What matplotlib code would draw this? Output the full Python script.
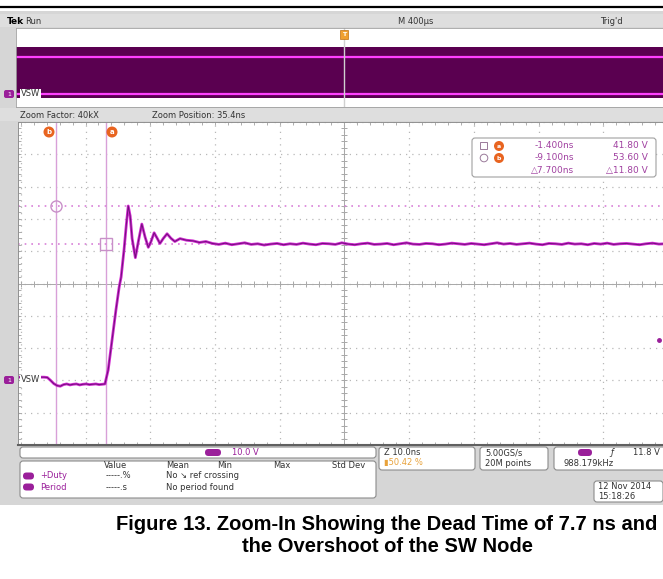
import matplotlib
matplotlib.use("Agg")
import matplotlib.pyplot as plt
from matplotlib.patches import FancyBboxPatch, Circle, Rectangle

W, H = 663, 579

# zoomed VSW trace: time (ns) and voltage (V)
t_ns = [-15.0, -11.0, -10.5, -10.0, -9.5, -9.0, -8.5, -8.0, -7.5, -7.0,
        -6.5, -6.0, -5.5, -5.0, -4.5, -4.0, -3.5, -3.0, -2.5, -2.0,
        -1.6, -1.1, -0.5, 0.1, 0.6, 0.9, 1.35, 1.7, 2.0, 2.3,
        2.6, 3.1, 3.6, 4.1, 4.6, 5.1, 5.5, 6.0, 6.5, 6.9,
        7.4, 8.0, 8.6, 9.2, 10.0, 11.0, 12.0,
        13, 14, 15, 16, 17, 18, 19, 20, 21, 22,
        23, 24, 25, 26, 27, 28, 29, 30, 31, 32,
        33, 34, 35, 36, 37, 38, 39, 40, 41, 42,
        43, 44, 45, 46, 47, 48, 49, 50, 51, 52,
        53, 54, 55, 56, 57, 58, 59, 60, 61, 62,
        63, 64, 65, 66, 67, 68, 69, 70, 71, 72,
        73, 74, 75, 76, 77, 78, 79, 80, 81, 82,
        83, 84, 85]
v_sw = [0.6, 0.6, 0.5, -0.4, -1.4, -2.0, -2.2, -1.7, -1.5, -1.8,
        -1.6, -1.5, -1.8, -1.6, -1.5, -1.7, -1.6, -1.5, -1.7, -1.6,
        -1.5, 2.8, 12.1, 21.4, 28.5, 31.6, 40.0, 47.7, 53.6, 50.5,
        43.5, 37.6, 43.0, 48.0, 44.0, 40.8, 42.5, 45.3, 43.5, 42.0,
        43.5, 45.0, 43.6, 42.6, 43.5, 43.0, 42.8,
        42.3, 42.6, 42.0, 41.7, 42.1, 41.6, 41.9, 42.2, 41.7, 41.9,
        41.5, 41.8, 42.0, 41.6, 41.9, 41.7, 42.1, 41.8, 41.6, 42.0,
        41.9, 41.7, 42.2, 41.8, 41.6, 41.9, 42.1, 41.7, 41.8, 42.0,
        41.6, 41.9, 42.2, 41.8, 41.7, 42.0, 41.9, 41.6, 41.8, 42.1,
        41.9, 41.7, 42.0, 41.8, 41.6, 41.9, 42.2, 41.8, 42.0, 41.7,
        41.9, 42.1, 41.8, 41.6, 42.0, 41.9, 41.7, 42.1, 41.8, 41.9,
        41.6, 42.0, 41.8, 42.1, 41.7, 41.9, 42.0, 41.8, 41.6, 41.9,
        42.1, 41.8, 41.9]

# cursors (ns, V)
cur_a = (-1.4, 41.8)
cur_b = (-9.1, 53.6)
readout = [["-1.400ns", "41.80 V"], ["-9.100ns", "53.60 V"], ["\u25b37.700ns", "\u25b311.80 V"]]

# overview record (us, V): envelope of the switching waveform
ov_t = [-2000, 2000]
ov_max = [54, 54]
ov_high = [42, 42]
ov_low = [0, 0]
ov_min = [-4, -4]

zoom_pos = 35.4      # ns, screen centre
ns_div, v_div = 10.0, 10.0
v_center = 29.6

PURPLE = "#9a1f9a"
TRACE = "#d028d0"
TXT = "#333333"
FS = 6
plt.rcParams["font.family"] = "DejaVu Sans"

fig = plt.figure(figsize=(W / 100, H / 100), dpi=100)


def px_axes(x, y, w, h, **kw):
    return fig.add_axes([x / W, 1 - (y + h) / H, w / W, h / H], **kw)


def rbox(ax, x, y, w, h, fc="white", ec="#8c8c8c"):
    ax.add_patch(FancyBboxPatch((x, y), w, h, boxstyle="round,pad=0,rounding_size=3",
                                fc=fc, ec=ec, lw=0.8))


# background (pixel coordinates)
bg = px_axes(0, 0, W, H)
bg.set_xlim(0, W)
bg.set_ylim(H, 0)
bg.axis("off")
bg.add_patch(Rectangle((0, 11), W, 494, fc="#d6d6d6", ec="none"))
bg.add_patch(Rectangle((0, 14), W, 13, fc="#dedede", ec="none"))
bg.add_patch(Rectangle((0, 108), W, 13, fc="#dedede", ec="none"))
bg.plot([0, W], [7, 7], color="black", lw=1.6)
bg.text(7, 21, "Tek", fontsize=FS + 0.5, fontweight="bold", color="black", va="center")
bg.text(25, 21, "Run", fontsize=FS, color=TXT, va="center")
bg.text(398, 21, "M 400\u00b5s", fontsize=FS, color=TXT, va="center")
bg.text(600, 21, "Trig'd", fontsize=FS, color=TXT, va="center")
bg.text(20, 115, "Zoom Factor: 40kX", fontsize=FS, color=TXT, va="center")
bg.text(152, 115, "Zoom Position: 35.4ns", fontsize=FS, color=TXT, va="center")

# bottom panels
rbox(bg, 20, 447, 356, 11)
rbox(bg, 20, 461, 356, 37)
for x, s in [(104, "Value"), (166, "Mean"), (217, "Min"), (273, "Max"), (332, "Std Dev")]:
    bg.text(x, 466, s, fontsize=FS, color=TXT, va="center")
for y, name, val, msg in [(476, "+Duty", "-----.%", "No \u2198 ref crossing"),
                          (487, "Period", "-----.s", "No period found")]:
    bg.add_patch(FancyBboxPatch((23, y - 3.5), 11, 7, boxstyle="round,pad=0,rounding_size=3.5",
                                fc=PURPLE, ec="none"))
    bg.text(40, y, name, fontsize=FS, color=PURPLE, va="center")
    bg.text(106, y, val, fontsize=FS, color=TXT, va="center")
    bg.text(166, y, msg, fontsize=FS, color=TXT, va="center")
bg.add_patch(FancyBboxPatch((205, 449), 16, 7, boxstyle="round,pad=0,rounding_size=3.5",
                            fc=PURPLE, ec="none"))
bg.text(232, 452.5, "10.0 V", fontsize=FS, color=PURPLE, va="center")

rbox(bg, 379, 447, 96, 23)
bg.text(384, 452.5, "Z 10.0ns", fontsize=FS, color=TXT, va="center")
bg.text(384, 463, "\u25ae50.42 %", fontsize=FS, color="#e8a23a", va="center")
rbox(bg, 480, 447, 68, 23)
bg.text(485, 452.5, "5.00GS/s", fontsize=FS, color=TXT, va="center")
bg.text(485, 463, "20M points", fontsize=FS, color=TXT, va="center")
rbox(bg, 554, 447, 115, 23)
bg.add_patch(FancyBboxPatch((578, 449), 14, 7, boxstyle="round,pad=0,rounding_size=3.5",
                            fc=PURPLE, ec="none"))
bg.text(610, 452.5, "\u0192", fontsize=FS, color=TXT, va="center", style="italic")
bg.text(660, 452.5, "11.8 V", fontsize=FS, color=TXT, va="center", ha="right")
bg.text(563, 463, "988.179kHz", fontsize=FS, color=TXT, va="center")
rbox(bg, 594, 481, 69, 21)
bg.text(598, 486.5, "12 Nov 2014", fontsize=FS, color=TXT, va="center")
bg.text(598, 496.5, "15:18:26", fontsize=FS, color=TXT, va="center")

# caption
fig.text(387 / W, 1 - 524 / H, "Figure 13. Zoom-In Showing the Dead Time of 7.7 ns and",
         ha="center", va="center", fontsize=14.5, fontweight="bold", family="Liberation Sans")
fig.text(387 / W, 1 - 546 / H, "the Overshoot of the SW Node",
         ha="center", va="center", fontsize=14.5, fontweight="bold", family="Liberation Sans")

# overview record
ov = px_axes(16, 28, 656, 79)
ov.set_xlim(-2000, 2000)
ov.set_ylim(-14.9, 75.9)
ov.fill_between(ov_t, ov_min, ov_max, color="#5a0050", lw=0)
ov.plot(ov_t, ov_high, color="#ff40ff", lw=1.6)
ov.plot(ov_t, ov_low, color="#ff40ff", lw=1.6)
ov.axvline(0, color="#d0d0d0", lw=1)
ov.set_xticks([])
ov.set_yticks([])
for s in ov.spines.values():
    s.set_color("#a0a0a0")
    s.set_linewidth(0.6)

# zoom window
ax = px_axes(18, 122, 650, 323)
x0 = cur_b[0] - 38.5 / 6.49
ax.set_xlim(x0, x0 + 650 / 6.49)
ax.set_ylim(v_center - 5 * v_div, v_center + 5 * v_div)
xg = [zoom_pos + k * ns_div for k in range(-5, 6)]
yg = [v_center + k * v_div for k in range(-5, 6)]
xm = [zoom_pos + k * ns_div / 5 for k in range(-25, 26)]
ym = [v_center + k * v_div / 5 for k in range(-25, 26)]
ax.set_xticks(xg)
ax.set_yticks(yg)
ax.set_xticks(xm, minor=True)
ax.set_yticks(ym, minor=True)
ax.tick_params(which="both", direction="in", length=2.5, color="#a0a0a0",
               labelbottom=False, labelleft=False, top=True, right=True, width=0.6)
ax.grid(True, which="major", color="#b8b8b8", linestyle=(0, (1, 4)), lw=0.9)
ax.axvline(zoom_pos, color="#a8a8a8", lw=0.7)
ax.axhline(v_center, color="#a8a8a8", lw=0.7)
ax.plot(xm, [v_center] * len(xm), ls="none", marker="|", ms=4, color="#a8a8a8", mew=0.7)
ax.plot([zoom_pos] * len(ym), ym, ls="none", marker="_", ms=4, color="#a8a8a8", mew=0.7)
for s in ax.spines.values():
    s.set_color("#909090")
    s.set_linewidth(0.7)
ax.spines["bottom"].set_color("#606060")
ax.spines["bottom"].set_linewidth(1.5)

for c in (cur_a, cur_b):
    ax.axvline(c[0], color="#d8a0d8", lw=1)
    ax.axhline(c[1], color="#d880d8", ls=(0, (1, 3)), lw=1.2)
ax.plot(*cur_b, marker="o", ms=8, mfc="none", mec="#c890c8", mew=1)
ax.plot(*cur_a, marker="s", ms=8, mfc="none", mec="#c890c8", mew=1)

ax.plot(t_ns, v_sw, color=TRACE, lw=2.0, solid_joinstyle="round")
ax.plot(t_ns, v_sw, color="#70107a", lw=0.7, solid_joinstyle="round")

# overlay (pixel coordinates)
fg = px_axes(0, 0, W, H)
fg.set_xlim(0, W)
fg.set_ylim(H, 0)
fg.axis("off")
fg.patch.set_alpha(0)

for y in (94, 380):
    fg.add_patch(FancyBboxPatch((4, y - 4), 10, 8, boxstyle="round,pad=0,rounding_size=2",
                                fc=PURPLE, ec="none"))
    fg.text(7, y, "1", fontsize=4.5, color="white", va="center")
    fg.text(21, y, "VSW", fontsize=FS, color=TXT, va="center",
            bbox=dict(fc="white", ec="none", pad=0.6))

# trigger marker on overview
fg.add_patch(Rectangle((340, 30), 8, 9, fc="#f0a030", ec="#c07010", lw=0.5))
fg.text(344, 34.5, "T", fontsize=4.5, color="white", ha="center", va="center", fontweight="bold")

# cursor tags
for xy, lab in [((49, 132), "b"), ((112, 132), "a")]:
    fg.add_patch(Circle(xy, 5.5, fc="#e86420", ec="none"))
    fg.text(xy[0], xy[1], lab, fontsize=5, color="white", ha="center", va="center",
            fontweight="bold")

# cursor readout
rbox(fg, 472, 138, 184, 39, ec="#a0a0a0")
fg.add_patch(Rectangle((480, 142), 7, 7, fc="none", ec="#9a7a9a", lw=0.7))
fg.add_patch(Circle((484, 158), 3.8, fc="none", ec="#9a7a9a", lw=0.7))
for y, lab in [(146, "a"), (158, "b")]:
    fg.add_patch(Circle((499, y), 5, fc="#e86420", ec="none"))
    fg.text(499, y, lab, fontsize=4.5, color="white", ha="center", va="center", fontweight="bold")
for (ts, vs), y in zip(readout, (146, 158, 170)):
    fg.text(574, y, ts, fontsize=FS + 0.5, color="#a040a0", ha="right", va="center")
    fg.text(648, y, vs, fontsize=FS + 0.5, color="#a040a0", ha="right", va="center")

# off-screen position indicator at the right edge
fg.plot(659, 340, marker="o", ms=2.5, color=PURPLE)

fig.savefig("out.png", dpi=100)
